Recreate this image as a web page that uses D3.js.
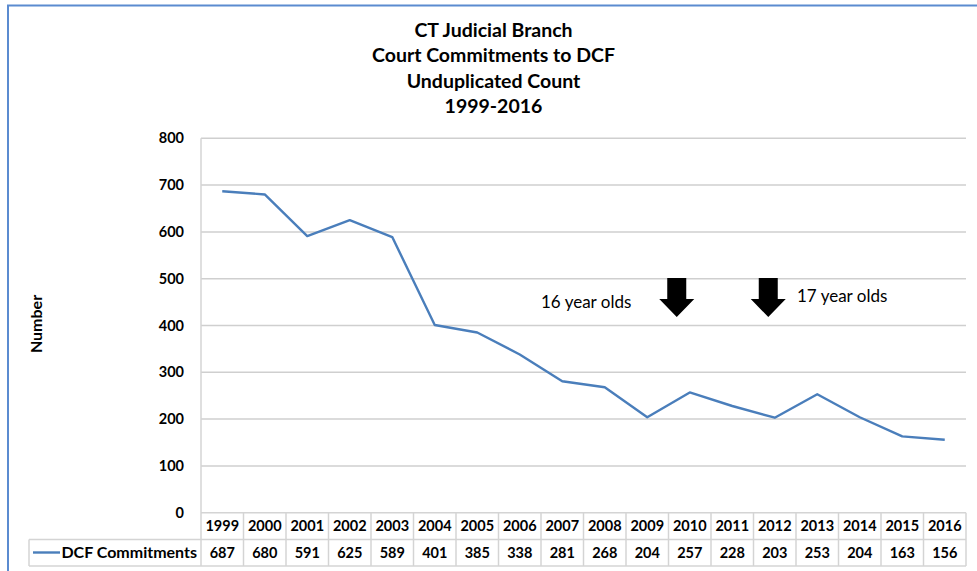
<!DOCTYPE html>
<html><head><meta charset="utf-8">
<script src="https://cdn.jsdelivr.net/npm/d3@7"></script>
<style>
html,body{margin:0;padding:0;background:#fff;}
svg{display:block;}
text{font-family:Lato,"Open Sans",sans-serif;fill:#000;}
</style></head>
<body>
<svg id="chart" width="977" height="571"></svg>
<script>
const titleLines = ["CT Judicial Branch","Court Commitments to DCF","Unduplicated Count","1999-2016"];
const years = ["1999","2000","2001","2002","2003","2004","2005","2006","2007","2008","2009","2010","2011","2012","2013","2014","2015","2016"];
const values = [687,680,591,625,589,401,385,338,281,268,204,257,228,203,253,204,163,156];
const seriesName = "DCF Commitments";
const yTicks = [0,100,200,300,400,500,600,700,800];
const yLabel = "Number";
const annotations = [
  {label:"16 year olds", year:"2010"},
  {label:"17 year olds", year:"2012"}
];

(function(){
const svg = d3.select("#chart");
const pLeft = 201, pRight = 966, pTop = 138.3, pBottom = 512.7;
const lineColor = "#4a7ebb";
const gridColor = "#cfcfcf";
const tableColor = "#d4d4d4";

// outer frame
svg.append("rect").attr("x",8).attr("y",5.5).attr("width",980).attr("height",580)
  .attr("fill","none").attr("stroke","#5b8bd0").attr("stroke-width",2);

const x = d3.scaleBand().domain(years).range([pLeft,pRight]).padding(0);
const y = d3.scaleLinear().domain([0,800]).range([pBottom,pTop]);

// title
const tg = svg.append("g");
titleLines.forEach((t,i)=>{
  tg.append("text").attr("x",493.5).attr("y",37+i*25.4).attr("text-anchor","middle")
    .attr("font-size",19.5).attr("font-weight","bold").text(t);
});

// gridlines
svg.append("g").selectAll("line").data(yTicks.filter(d=>d>0)).join("line")
  .attr("x1",pLeft).attr("x2",pRight).attr("y1",d=>y(d)).attr("y2",d=>y(d))
  .attr("stroke",gridColor).attr("stroke-width",1.5);

// y axis
const yAxis = d3.axisLeft(y).tickValues(yTicks).tickSize(0).tickPadding(17);
const yg = svg.append("g").attr("transform",`translate(${pLeft},0)`).call(yAxis);
yg.select(".domain").remove();
yg.selectAll("text").attr("font-size",14.5).attr("font-weight","bold")
  .attr("font-family","Lato,'Open Sans',sans-serif").attr("fill","#000");

// vertical axis line
svg.append("line").attr("x1",pLeft).attr("x2",pLeft).attr("y1",pTop).attr("y2",566)
  .attr("stroke",tableColor).attr("stroke-width",1.5);

svg.append("text").attr("transform",`translate(42,324) rotate(-90)`)
  .attr("text-anchor","middle").attr("font-size",16).attr("font-weight","bold").text(yLabel);

// line
const line = d3.line().x((d,i)=>x(years[i])+x.bandwidth()/2).y(d=>y(d));
svg.append("path").datum(values).attr("d",line).attr("fill","none")
  .attr("stroke",lineColor).attr("stroke-width",2.4).attr("stroke-linejoin","round");

// table
const rowTop = pBottom, rowMid = 539.5, rowBot = 566;
const tbl = svg.append("g");
tbl.append("line").attr("x1",pLeft).attr("x2",pRight).attr("y1",rowTop).attr("y2",rowTop).attr("stroke",tableColor).attr("stroke-width",1.5);
tbl.append("line").attr("x1",29).attr("x2",pRight).attr("y1",rowMid).attr("y2",rowMid).attr("stroke",tableColor).attr("stroke-width",1.5);
tbl.append("line").attr("x1",29).attr("x2",pRight).attr("y1",rowBot).attr("y2",rowBot).attr("stroke",tableColor).attr("stroke-width",1.5);
tbl.append("line").attr("x1",29).attr("x2",29).attr("y1",rowMid).attr("y2",rowBot).attr("stroke",tableColor).attr("stroke-width",1.5);
tbl.selectAll("line.v").data(years).join("line").attr("class","v")
  .attr("x1",d=>x(d)+x.bandwidth()).attr("x2",d=>x(d)+x.bandwidth())
  .attr("y1",rowTop).attr("y2",rowBot).attr("stroke",tableColor).attr("stroke-width",1.5);
tbl.selectAll("text.yr").data(years).join("text").attr("class","yr")
  .attr("x",d=>x(d)+x.bandwidth()/2).attr("y",531).attr("text-anchor","middle")
  .attr("font-size",14.5).attr("font-weight","bold").text(d=>d);
tbl.selectAll("text.val").data(values).join("text").attr("class","val")
  .attr("x",(d,i)=>x(years[i])+x.bandwidth()/2).attr("y",558).attr("text-anchor","middle")
  .attr("font-size",14.5).attr("font-weight","bold").text(d=>d);
tbl.append("line").attr("x1",33).attr("x2",60).attr("y1",552.5).attr("y2",552.5)
  .attr("stroke",lineColor).attr("stroke-width",2.4);
tbl.append("text").attr("x",197).attr("y",558).attr("text-anchor","end")
  .attr("font-size",16).attr("font-weight","bold").text(seriesName);

// annotations: arrows
const arrowOffsets = [-13, -6.5];
annotations.forEach((a,i)=>{
  const cx = x(a.year)+x.bandwidth()/2 + arrowOffsets[i];
  const p = `M${cx-9.5},278 L${cx+9.5},278 L${cx+9.5},299 L${cx+17.5},299 L${cx},317 L${cx-17.5},299 L${cx-9.5},299 Z`;
  svg.append("path").attr("d",p).attr("fill","#000");
});
svg.append("text").attr("x",541).attr("y",308).attr("font-size",17).attr("fill","#222").text(annotations[0].label);
svg.append("text").attr("x",797).attr("y",302).attr("font-size",17).attr("fill","#222").text(annotations[1].label);
})();
</script>
</body></html>
